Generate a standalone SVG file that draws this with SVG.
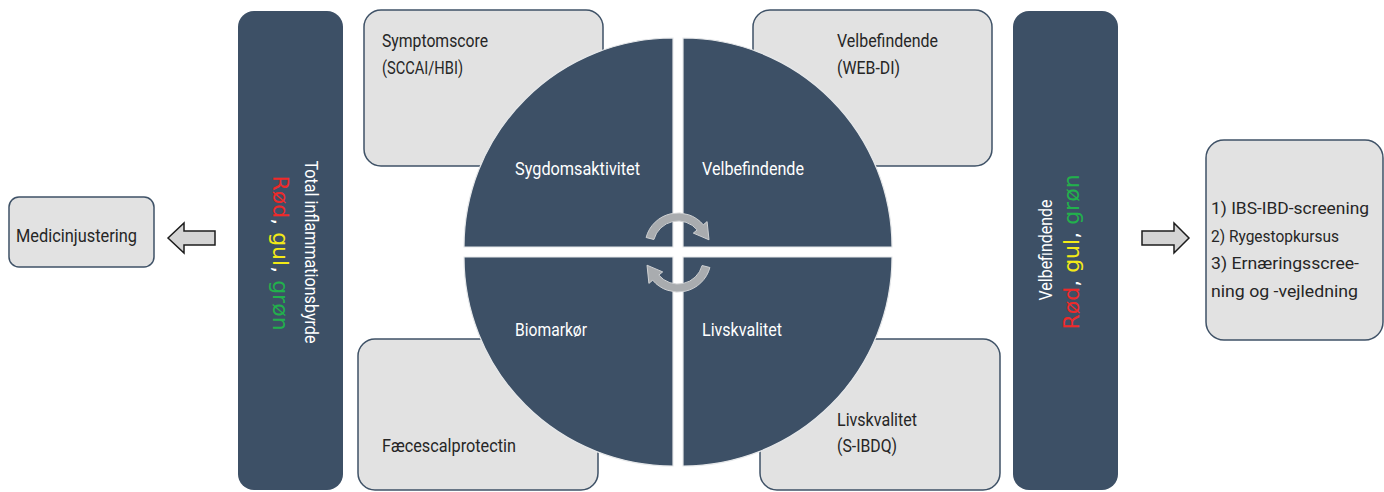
<svg xmlns="http://www.w3.org/2000/svg" xmlns:xlink="http://www.w3.org/1999/xlink" width="1384" height="492" viewBox="0 0 1384 492">
  <style>
    .box { fill: #e2e2e2; stroke: #3f5267; stroke-width: 1.5; }
    .bar { fill: #3d5066; }
    .quad { fill: #3d5066; stroke: #e6e8ea; stroke-width: 1.2; }
    .txt { font-family: Roboto, "Liberation Sans", sans-serif; fill: #262626; }
    .wtxt { font-family: Roboto, "Liberation Sans", sans-serif; fill: #ffffff; }
    .rgg { font-family: "DejaVu Sans", "Liberation Sans", sans-serif; font-size: 22px; }
    .red { fill: #ee2a2a; }
    .yel { fill: #f3ea16; }
    .grn { fill: #22b14c; }
    .wht { fill: #ffffff; }
    .blk { fill: #d4d4d4; stroke: #1c1c1c; stroke-width: 1.5; stroke-linejoin: miter; }
    .cyc { fill: #a9acaf; stroke: #cfd1d3; stroke-width: 1; }
  </style>
  <defs>
    <path id="cycle-arrow" d="M646.1,237.5 A33,33 0 0 1 703.3,224.8 L707.1,221.6 L709,239.8 L693.3,233.1 L697.2,229.9 A25,25 0 0 0 653.9,239.5 Z"/>
  </defs>

  <rect width="1384" height="492" fill="#ffffff"/>

  <!-- outcome boxes behind the wheel -->
  <g id="symptomscore">
    <rect class="box" x="364" y="10" width="239" height="156" rx="17"/>
    <text class="txt" x="382" y="47" font-size="19" textLength="106" lengthAdjust="spacingAndGlyphs">Symptomscore</text>
    <text class="txt" x="382" y="74" font-size="19" textLength="81" lengthAdjust="spacingAndGlyphs">(SCCAI/HBI)</text>
  </g>
  <g id="velbefindende-box">
    <rect class="box" x="753" y="10" width="239" height="156" rx="17"/>
    <text class="txt" x="837" y="47" font-size="19" textLength="101" lengthAdjust="spacingAndGlyphs">Velbefindende</text>
    <text class="txt" x="837" y="74" font-size="19" textLength="63" lengthAdjust="spacingAndGlyphs">(WEB-DI)</text>
  </g>
  <g id="faecescalprotectin">
    <rect class="box" x="358" y="339" width="240" height="151" rx="17"/>
    <text class="txt" x="382" y="452" font-size="19" textLength="134" lengthAdjust="spacingAndGlyphs">Fæcescalprotectin</text>
  </g>
  <g id="livskvalitet-box">
    <rect class="box" x="760" y="339" width="240" height="151" rx="17"/>
    <text class="txt" x="837" y="426" font-size="19" textLength="80" lengthAdjust="spacingAndGlyphs">Livskvalitet</text>
    <text class="txt" x="837" y="452" font-size="19" textLength="60" lengthAdjust="spacingAndGlyphs">(S-IBDQ)</text>
  </g>

  <!-- wheel of four quadrants -->
  <g id="sygdomsaktivitet">
    <path class="quad" d="M673,247 L464,247 A209,209 0 0 1 673,38 Z"/>
    <text class="wtxt" x="515" y="175" font-size="18" textLength="125" lengthAdjust="spacingAndGlyphs">Sygdomsaktivitet</text>
  </g>
  <g id="velbefindende">
    <path class="quad" d="M683,247 L683,38 A209,209 0 0 1 892,247 Z"/>
    <text class="wtxt" x="702" y="175" font-size="18" textLength="102" lengthAdjust="spacingAndGlyphs">Velbefindende</text>
  </g>
  <g id="biomarkor">
    <path class="quad" d="M673,257 L673,466 A209,209 0 0 1 464,257 Z"/>
    <text class="wtxt" x="515" y="336" font-size="18" textLength="72" lengthAdjust="spacingAndGlyphs">Biomarkør</text>
  </g>
  <g id="livskvalitet">
    <path class="quad" d="M683,257 L892,257 A209,209 0 0 1 683,466 Z"/>
    <text class="wtxt" x="702" y="336" font-size="18" textLength="80" lengthAdjust="spacingAndGlyphs">Livskvalitet</text>
  </g>
  <g id="cycle">
    <use xlink:href="#cycle-arrow" class="cyc"/>
    <use xlink:href="#cycle-arrow" class="cyc" transform="rotate(180 678 252.5)"/>
  </g>

  <!-- side bars -->
  <g id="total-inflammationsbyrde">
    <rect class="bar" x="238" y="11" width="105" height="479" rx="16"/>
    <text class="wtxt" transform="translate(305,252) rotate(90)" text-anchor="middle" font-size="18" textLength="183" lengthAdjust="spacingAndGlyphs">Total inflammationsbyrde</text>
    <text class="rgg" transform="translate(273,253) rotate(90)" text-anchor="middle"><tspan class="red">Rød</tspan><tspan class="wht">, </tspan><tspan class="yel">gul</tspan><tspan class="wht">, </tspan><tspan class="grn">grøn</tspan></text>
  </g>
  <g id="velbefindende-bar">
    <rect class="bar" x="1013" y="11" width="105" height="479" rx="16"/>
    <text class="wtxt" transform="translate(1052,250) rotate(-90)" text-anchor="middle" font-size="18" textLength="101" lengthAdjust="spacingAndGlyphs">Velbefindende</text>
    <text class="rgg" transform="translate(1079,252) rotate(-90)" text-anchor="middle"><tspan class="red">Rød</tspan><tspan class="wht">, </tspan><tspan class="yel">gul</tspan><tspan class="wht">, </tspan><tspan class="grn">grøn</tspan></text>
  </g>

  <!-- action boxes -->
  <g id="medicinjustering">
    <rect class="box" x="9" y="197" width="145" height="70" rx="10"/>
    <text class="txt" x="16" y="242" font-size="19" textLength="121" lengthAdjust="spacingAndGlyphs">Medicinjustering</text>
  </g>
  <g id="tiltag">
    <rect class="box" x="1206" y="140" width="177" height="200" rx="18"/>
    <text class="txt" x="1211" y="214" font-size="17" textLength="158" lengthAdjust="spacingAndGlyphs">1) IBS-IBD-screening</text>
    <text class="txt" x="1211" y="242" font-size="17" textLength="128" lengthAdjust="spacingAndGlyphs">2) Rygestopkursus</text>
    <text class="txt" x="1211" y="269" font-size="17" textLength="148" lengthAdjust="spacingAndGlyphs">3) Ernæringsscree-</text>
    <text class="txt" x="1211" y="297" font-size="17" textLength="147" lengthAdjust="spacingAndGlyphs">ning og -vejledning</text>
  </g>

  <!-- connectors -->
  <g id="connectors">
    <path class="blk" d="M168,238 L184,223 L184,231 L215,231 L215,245 L184,245 L184,253 Z"/>
    <path class="blk" d="M1189,238 L1174,223 L1174,231 L1142,231 L1142,245 L1174,245 L1174,253 Z"/>
  </g>
</svg>
